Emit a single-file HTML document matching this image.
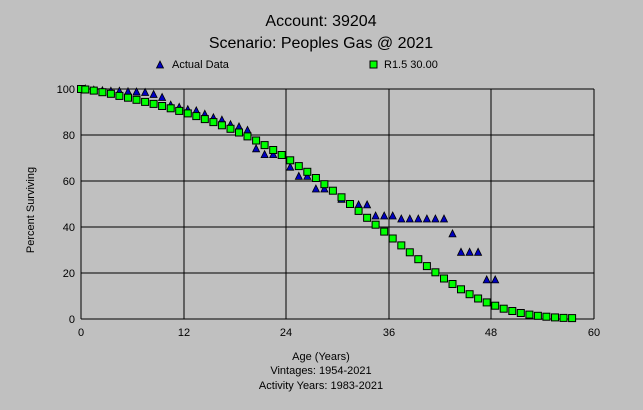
<!DOCTYPE html>
<html><head><style>
body{margin:0;background:#c0c0c0;}
svg{display:block;font-family:"Liberation Sans",sans-serif;}
</style></head><body>
<svg width="643" height="410" xmlns="http://www.w3.org/2000/svg" xmlns:xlink="http://www.w3.org/1999/xlink">
<defs>
<polygon id="t" points="-3.5,3 3.5,3 0,-4" fill="#0000c0" stroke="#000" stroke-width="0.8"/>
<rect id="s" x="-3.5" y="-3.5" width="7" height="7" fill="#00ff00" stroke="#000" stroke-width="1"/>
</defs>
<rect width="643" height="410" fill="#c0c0c0"/>
<text x="321" y="26" font-size="16" text-anchor="middle">Account: 39204</text>
<text x="321" y="48" font-size="16" text-anchor="middle">Scenario: Peoples Gas @ 2021</text>
<use xlink:href="#t" x="160" y="65"/>
<text x="172" y="68" font-size="11">Actual Data</text>
<use xlink:href="#s" x="373.5" y="64.5"/>
<text x="384" y="68" font-size="11">R1.5 30.00</text>
<g stroke="#000" stroke-width="1">
<line x1="81" y1="89" x2="594" y2="89"/><line x1="81" y1="135" x2="594" y2="135"/><line x1="81" y1="181" x2="594" y2="181"/><line x1="81" y1="227" x2="594" y2="227"/><line x1="81" y1="273" x2="594" y2="273"/><line x1="81" y1="319" x2="594" y2="319"/>
<line x1="81" y1="89" x2="81" y2="319"/><line x1="184" y1="89" x2="184" y2="319"/><line x1="286" y1="89" x2="286" y2="319"/><line x1="389" y1="89" x2="389" y2="319"/><line x1="491" y1="89" x2="491" y2="319"/><line x1="594" y1="89" x2="594" y2="319"/>
</g>
<g font-size="11" text-anchor="end">
<text x="75" y="93">100</text><text x="75" y="139">80</text><text x="75" y="185">60</text><text x="75" y="231">40</text><text x="75" y="277">20</text><text x="75" y="323">0</text>
</g>
<g font-size="11" text-anchor="middle">
<text x="81" y="336">0</text><text x="184" y="336">12</text><text x="286" y="336">24</text><text x="389" y="336">36</text><text x="491" y="336">48</text><text x="594" y="336">60</text>
<text x="321" y="360">Age (Years)</text>
<text x="321" y="374">Vintages: 1954-2021</text>
<text x="321" y="389">Activity Years: 1983-2021</text>
</g>
<text transform="translate(34,210) rotate(-90)" font-size="11" text-anchor="middle">Percent Surviving</text>
<g>
<use xlink:href="#t" x="85.3" y="89"/><use xlink:href="#t" x="93.8" y="90.2"/><use xlink:href="#t" x="102.4" y="90.8"/><use xlink:href="#t" x="110.9" y="91.3"/><use xlink:href="#t" x="119.4" y="91.3"/><use xlink:href="#t" x="128" y="91.8"/><use xlink:href="#t" x="136.5" y="92"/><use xlink:href="#t" x="145.1" y="92.5"/><use xlink:href="#t" x="153.6" y="94.5"/><use xlink:href="#t" x="162.1" y="97.5"/><use xlink:href="#t" x="170.7" y="105.1"/><use xlink:href="#t" x="179.2" y="107.4"/><use xlink:href="#t" x="187.8" y="109.7"/><use xlink:href="#t" x="196.3" y="110.9"/><use xlink:href="#t" x="204.8" y="114.3"/><use xlink:href="#t" x="213.4" y="117.8"/><use xlink:href="#t" x="221.9" y="120.1"/><use xlink:href="#t" x="230.5" y="124.7"/><use xlink:href="#t" x="239" y="126.9"/><use xlink:href="#t" x="247.5" y="130.4"/><use xlink:href="#t" x="256.1" y="148.8"/><use xlink:href="#t" x="264.6" y="154.6"/><use xlink:href="#t" x="273.2" y="154.6"/><use xlink:href="#t" x="290.2" y="167.2"/><use xlink:href="#t" x="298.8" y="176.4"/><use xlink:href="#t" x="307.3" y="176.4"/><use xlink:href="#t" x="315.9" y="189"/><use xlink:href="#t" x="324.4" y="189"/><use xlink:href="#t" x="341.5" y="199.4"/><use xlink:href="#t" x="358.6" y="204.9"/><use xlink:href="#t" x="367.1" y="204.9"/><use xlink:href="#t" x="375.6" y="216"/><use xlink:href="#t" x="384.2" y="216"/><use xlink:href="#t" x="392.7" y="216"/><use xlink:href="#t" x="401.3" y="219"/><use xlink:href="#t" x="409.8" y="219"/><use xlink:href="#t" x="418.3" y="219"/><use xlink:href="#t" x="426.9" y="219"/><use xlink:href="#t" x="435.4" y="219"/><use xlink:href="#t" x="444" y="219"/><use xlink:href="#t" x="452.5" y="233.9"/><use xlink:href="#t" x="461" y="252.3"/><use xlink:href="#t" x="469.6" y="252.3"/><use xlink:href="#t" x="478.1" y="252.3"/><use xlink:href="#t" x="486.7" y="279.9"/><use xlink:href="#t" x="495.2" y="279.9"/>
</g>
<g>
<use xlink:href="#s" x="81" y="89"/><use xlink:href="#s" x="85.3" y="89.5"/><use xlink:href="#s" x="93.8" y="90.6"/><use xlink:href="#s" x="102.4" y="92.2"/><use xlink:href="#s" x="110.9" y="93.8"/><use xlink:href="#s" x="119.4" y="95.9"/><use xlink:href="#s" x="128" y="97.7"/><use xlink:href="#s" x="136.5" y="99.8"/><use xlink:href="#s" x="145.1" y="101.9"/><use xlink:href="#s" x="153.6" y="103.9"/><use xlink:href="#s" x="162.1" y="106"/><use xlink:href="#s" x="170.7" y="108.3"/><use xlink:href="#s" x="179.2" y="110.9"/><use xlink:href="#s" x="187.8" y="113.4"/><use xlink:href="#s" x="196.3" y="116.1"/><use xlink:href="#s" x="204.8" y="119.1"/><use xlink:href="#s" x="213.4" y="122.1"/><use xlink:href="#s" x="221.9" y="125.3"/><use xlink:href="#s" x="230.5" y="128.8"/><use xlink:href="#s" x="239" y="132.5"/><use xlink:href="#s" x="247.5" y="136.4"/><use xlink:href="#s" x="256.1" y="140.5"/><use xlink:href="#s" x="264.6" y="145.1"/><use xlink:href="#s" x="273.2" y="150"/><use xlink:href="#s" x="281.7" y="155"/><use xlink:href="#s" x="290.2" y="160.3"/><use xlink:href="#s" x="298.8" y="166.1"/><use xlink:href="#s" x="307.3" y="171.8"/><use xlink:href="#s" x="315.9" y="178"/><use xlink:href="#s" x="324.4" y="184.2"/><use xlink:href="#s" x="332.9" y="190.7"/><use xlink:href="#s" x="341.5" y="197.3"/><use xlink:href="#s" x="350" y="204"/><use xlink:href="#s" x="358.6" y="210.9"/><use xlink:href="#s" x="367.1" y="217.8"/><use xlink:href="#s" x="375.6" y="224.7"/><use xlink:href="#s" x="384.2" y="231.6"/><use xlink:href="#s" x="392.7" y="238.5"/><use xlink:href="#s" x="401.3" y="245.4"/><use xlink:href="#s" x="409.8" y="252.3"/><use xlink:href="#s" x="418.3" y="259.2"/><use xlink:href="#s" x="426.9" y="266.1"/><use xlink:href="#s" x="435.4" y="272.3"/><use xlink:href="#s" x="444" y="278.5"/><use xlink:href="#s" x="452.5" y="284"/><use xlink:href="#s" x="461" y="289.3"/><use xlink:href="#s" x="469.6" y="294.2"/><use xlink:href="#s" x="478.1" y="298.5"/><use xlink:href="#s" x="486.7" y="302.4"/><use xlink:href="#s" x="495.2" y="305.7"/><use xlink:href="#s" x="503.7" y="308.7"/><use xlink:href="#s" x="512.3" y="311"/><use xlink:href="#s" x="520.8" y="313"/><use xlink:href="#s" x="529.4" y="314.6"/><use xlink:href="#s" x="537.9" y="315.8"/><use xlink:href="#s" x="546.4" y="316.7"/><use xlink:href="#s" x="555" y="317.4"/><use xlink:href="#s" x="563.5" y="317.9"/><use xlink:href="#s" x="572.1" y="318.1"/>
</g>
</svg>
</body></html>
